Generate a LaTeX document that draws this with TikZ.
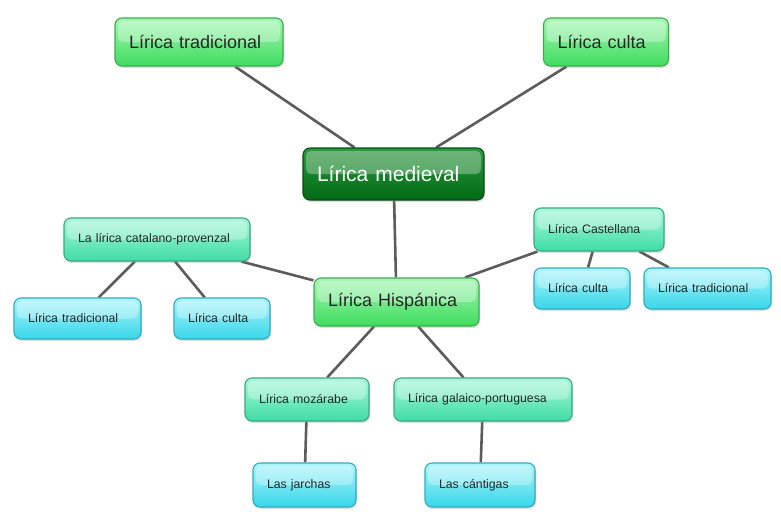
\documentclass[tikz,border=0pt]{standalone}
\usepackage{fontspec}
\setmainfont{Liberation Sans}
\usetikzlibrary{shadows,backgrounds}
\definecolor{vtop}{HTML}{A6F7B4}\definecolor{vbot}{HTML}{3FDC5F}\definecolor{vline}{HTML}{3CAE4E}
\definecolor{otop}{HTML}{2E9A40}\definecolor{obot}{HTML}{006A14}\definecolor{oline}{HTML}{0B4A16}
\definecolor{ttop}{HTML}{A8F8DC}\definecolor{tbot}{HTML}{40DCA6}\definecolor{tline}{HTML}{3AA883}
\definecolor{ctop}{HTML}{AEF6FB}\definecolor{cbot}{HTML}{38D6EA}\definecolor{cline}{HTML}{2FABBE}
\definecolor{rama}{HTML}{5C5C5C}
\begin{document}
\begin{tikzpicture}[x=1pt, y=-1pt, line join=round, line cap=round,
	box/.style={rounded corners=7pt, line width=1.1pt, inner xsep=14pt, inner ysep=0pt, align=left, text=black!85,
		drop shadow={shadow xshift=1pt, shadow yshift=-2pt, opacity=.25},
		path picture={\fill[white, opacity=.3, rounded corners=5pt]
			([xshift=3pt, yshift=-3pt]path picture bounding box.north west) rectangle ([xshift=-3pt]path picture bounding box.east);}},
	verde/.style={box, draw=vline, top color=vtop, bottom color=vbot, minimum height=48pt, font=\fontsize{18}{20}\selectfont},
	oscuro/.style={box, draw=oline, top color=otop, bottom color=obot, minimum height=52pt, text=white, font=\fontsize{21}{24}\selectfont},
	turq/.style={box, draw=tline, top color=ttop, bottom color=tbot, minimum height=43pt, font=\fontsize{12.3}{14}\selectfont},
	cian/.style={box, draw=cline, top color=ctop, bottom color=cbot, minimum height=41pt, font=\fontsize{12.3}{14}\selectfont},
	rama/.style={draw=rama, line width=2.6pt}]
	\useasboundingbox (0,0) rectangle (781,517);
	% nodos
	\node[verde, text width=140pt] (trad) at (199,42) {Lírica tradicional};
	\node[verde, text width=97pt] (culta) at (606,42) {Lírica culta};
	\node[oscuro, text width=153pt] (med) at (393.5,174) {Lírica medieval};
	\node[verde, text width=137pt] (hisp) at (396.5,302) {Lírica Hispánica};
	\node[turq, text width=158pt] (cat) at (157,239.5) {La lírica catalano-provenzal};
	\node[cian, text width=99pt] (ctrad) at (77.5,318.5) {Lírica tradicional};
	\node[cian, text width=68pt] (cculta) at (222,318.5) {Lírica culta};
	\node[turq, text width=102pt] (cas) at (599,229.5) {Lírica Castellana};
	\node[cian, text width=68pt] (kculta) at (582,288.5) {Lírica culta};
	\node[cian, text width=99pt] (ktrad) at (707.5,288.5) {Lírica tradicional};
	\node[turq, text width=96pt] (moz) at (307,399.5) {Lírica mozárabe};
	\node[turq, text width=150pt] (gal) at (483,399.5) {Lírica galaico-portuguesa};
	\node[cian, text width=75pt, minimum height=44pt] (jar) at (304.5,485) {Las jarchas};
	\node[cian, text width=82pt, minimum height=44pt] (cant) at (480,485) {Las cántigas};
	% ramas
	\begin{scope}[on background layer]
		\fill[white] (0,0) rectangle (781,517);
		\foreach \a/\b in {med/trad,med/culta,med/hisp,hisp/cat,hisp/cas,hisp/moz,hisp/gal,
			cat/ctrad,cat/cculta,cas/kculta,cas/ktrad,moz/jar,gal/cant}
			\draw[rama] (\a) -- (\b);
	\end{scope}
\end{tikzpicture}
\end{document}
